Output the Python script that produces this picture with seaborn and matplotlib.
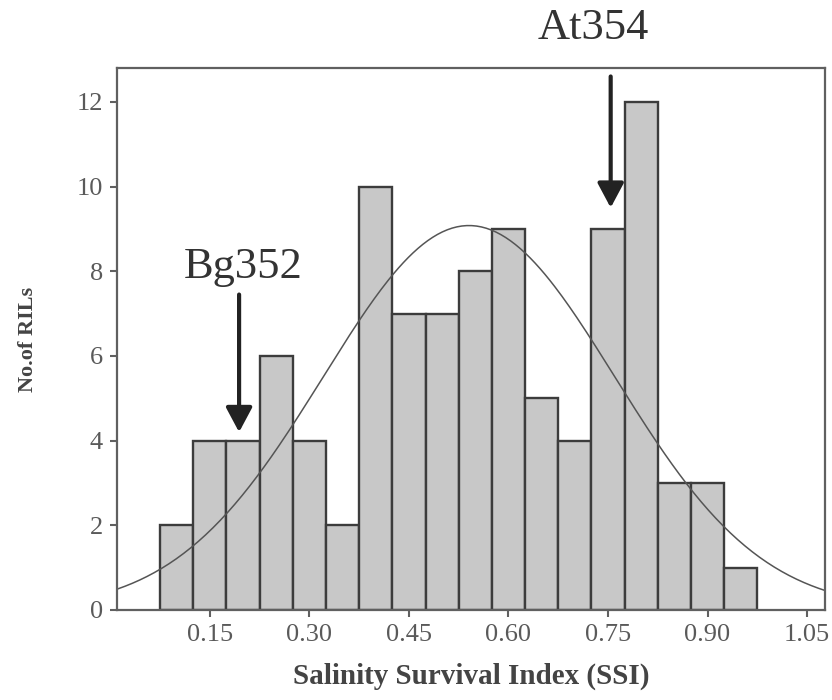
import numpy as np
import pandas as pd
import matplotlib
matplotlib.use("Agg")
import matplotlib.pyplot as plt
import seaborn as sns

# ---- data ----
bin_centers = [0.10, 0.15, 0.20, 0.25, 0.30, 0.35, 0.40, 0.45, 0.50,
               0.55, 0.60, 0.65, 0.70, 0.75, 0.80, 0.85, 0.90, 0.95]
counts = [2, 4, 4, 6, 4, 2, 10, 7, 7, 8, 9, 5, 4, 9, 12, 3, 3, 1]
bin_width = 0.05
x_ticks = [0.15, 0.30, 0.45, 0.60, 0.75, 0.90, 1.05]
y_ticks = [0, 2, 4, 6, 8, 10, 12]
annotations = {"Bg352": (0.20, 4.2), "At354": (0.75, 9.5)}

sns.set_style("white")
plt.rcParams['font.family'] = ['Liberation Serif', 'DejaVu Serif']

df = pd.DataFrame({"SSI": bin_centers, "n": counts})
lo = bin_centers[0] - bin_width / 2
hi = bin_centers[-1] + bin_width / 2

fig = plt.figure(figsize=(8.32, 7.0), dpi=100)
ax = fig.add_axes([117 / 832, 1 - 610 / 700, (825 - 117) / 832, (610 - 68) / 700])

sns.histplot(data=df, x="SSI", weights="n", binwidth=bin_width, binrange=(lo, hi),
             stat="count", color="#c8c8c8", edgecolor="#3c3c3c", linewidth=1.7,
             alpha=1, ax=ax)

# fitted normal curve (from the histogram data)
c = np.array(counts, dtype=float)
xc = np.array(bin_centers)
N = c.sum()
mu = (c * xc).sum() / N
sd = np.sqrt((c * (xc - mu) ** 2).sum() / (N - 1))
xs = np.linspace(0.0, 1.1, 300)
ys = N * bin_width / (sd * np.sqrt(2 * np.pi)) * np.exp(-0.5 * ((xs - mu) / sd) ** 2)
sns.lineplot(x=xs, y=ys, color="#555555", linewidth=1.1, ax=ax)

ax.set_xlim(0.010, 1.077)
ax.set_ylim(0, 12.8)
ax.set_xticks(x_ticks)
ax.set_xticklabels([f"{t:.2f}" for t in x_ticks])
ax.set_yticks(y_ticks)
ax.tick_params(axis="both", which="both", direction="out", length=5, width=1.5,
               color="#606060", labelcolor="#5a5a5a", labelsize=19,
               bottom=True, left=True, top=False, right=False, pad=5)
for s in ax.spines.values():
    s.set_color("#606060")
    s.set_linewidth(1.6)
    s.set_visible(True)

ax.set_xlabel("Salinity Survival Index (SSI)", fontsize=21, fontweight="bold",
              color="#444444", labelpad=12)
ax.set_ylabel("No.of RILs", fontsize=16, fontweight="bold", color="#444444", labelpad=28)

arrow_style = "-|>,head_length=1.5,head_width=0.8"

# arrows
bx, by = annotations["Bg352"]
ax.annotate("", xy=(bx - 0.006, by), xytext=(bx - 0.006, 7.45),
            arrowprops=dict(arrowstyle=arrow_style, color="#222222", lw=3.0,
                            shrinkA=0, shrinkB=0))
ax.text(bx - 0.0, 8.1, "Bg352", fontsize=32, color="#333333", ha="center", va="center")

ax2x, ax2y = annotations["At354"]
ax.annotate("", xy=(ax2x + 0.004, ax2y), xytext=(ax2x + 0.004, 12.6),
            arrowprops=dict(arrowstyle=arrow_style, color="#222222", lw=3.0,
                            shrinkA=0, shrinkB=0))
ax.text(0.728, 13.75, "At354", fontsize=32, color="#333333", ha="center", va="center",
        clip_on=False)

fig.savefig("out.png", dpi=100)
